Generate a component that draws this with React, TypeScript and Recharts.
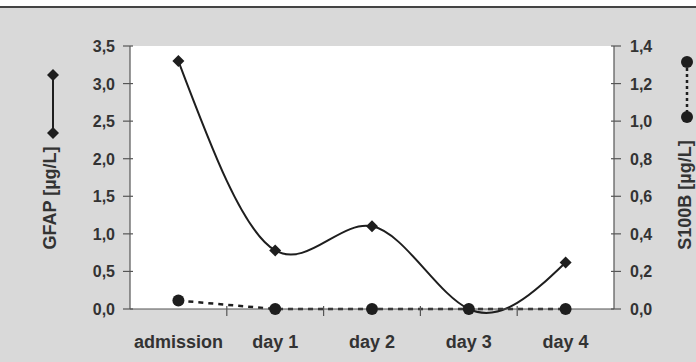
import { ComposedChart, Line, XAxis, YAxis, CartesianGrid } from "recharts"

const days = ["admission", "day 1", "day 2", "day 3", "day 4"]
const gfap = [3.3, 0.78, 1.1, 0.0, 0.62]
const s100b = [0.045, 0.0, 0.0, 0.0, 0.0]
const gfapTicks = [0, 0.5, 1, 1.5, 2, 2.5, 3, 3.5]
const s100bTicks = [0, 0.2, 0.4, 0.6, 0.8, 1.0, 1.2, 1.4]

const data = days.map((day, i) => ({ day, gfap: gfap[i], s100b: s100b[i] }))

const INK = "#1e1e1e"
const TEXT = "#333"
const FONT = "Arial, 'Liberation Sans', sans-serif"

const comma = (v: number) => v.toFixed(1).replace(".", ",")

function Diamond({ cx, cy }: { cx?: number; cy?: number }) {
  if (cx == null || cy == null) return null
  return <path d={`M${cx},${cy - 6} L${cx + 6},${cy} L${cx},${cy + 6} L${cx - 6},${cy} Z`} fill={INK} />
}

function Dot({ cx, cy }: { cx?: number; cy?: number }) {
  if (cx == null || cy == null) return null
  return <circle cx={cx} cy={cy} r={6} fill={INK} />
}

function LeftTick({ x, y, payload }: any) {
  return (
    <g>
      <line x1={x - 5} x2={x + 5} y1={y} y2={y} stroke="#555" strokeWidth={1.2} />
      <text x={x - 13} y={y + 6} textAnchor="end" fill={TEXT} fontSize={16} fontWeight={700} fontFamily={FONT}>
        {comma(payload.value)}
      </text>
    </g>
  )
}

function RightTick({ x, y, payload }: any) {
  return (
    <g>
      <line x1={x - 5} x2={x + 5} y1={y} y2={y} stroke="#555" strokeWidth={1.2} />
      <text x={x + 14} y={y + 6} textAnchor="start" fill={TEXT} fontSize={16} fontWeight={700} fontFamily={FONT}>
        {comma(payload.value)}
      </text>
    </g>
  )
}

function BottomTick({ x, y, payload }: any) {
  const half = payload.offset || 48.4
  return (
    <g>
      {payload.index > 0 && (
        <line x1={x - half} x2={x - half} y1={y - 5} y2={y + 5} stroke="#555" strokeWidth={1.2} />
      )}
      <text x={x} y={y + 37} textAnchor="middle" fill={TEXT} fontSize={18} fontWeight={700} fontFamily={FONT}>
        {payload.value}
      </text>
    </g>
  )
}

export default function App() {
  return (
    <div style={{ position: "absolute", left: 0, top: 0, width: 696, height: 362, background: "#fff" }}>
      <div style={{ position: "absolute", left: 0, top: 6, width: 696, height: 356, background: "#d9d9d9", borderTop: "2px solid #444", boxSizing: "border-box" }} />
      <div style={{ position: "absolute", left: 0, top: 0 }}>
        <ComposedChart width={696} height={362} data={data} margin={{ top: 46, right: 0, bottom: 0, left: 0 }}>
          <CartesianGrid horizontal={false} vertical={false} fill="#ffffff" />
          <XAxis
            dataKey="day"
            scale="band"
            height={53}
            axisLine={{ stroke: "#555", strokeWidth: 1.2 }}
            tickLine={false}
            tick={<BottomTick />}
            tickSize={0}
            interval={0}
          />
          <YAxis
            yAxisId="gfap"
            orientation="left"
            width={130}
            domain={[0, 3.5]}
            ticks={gfapTicks}
            axisLine={{ stroke: "#555", strokeWidth: 1.2 }}
            tickLine={false}
            tickSize={0}
            tick={<LeftTick />}
            interval={0}
          />
          <YAxis
            yAxisId="s100b"
            orientation="right"
            width={82}
            domain={[0, 1.4]}
            ticks={s100bTicks}
            axisLine={{ stroke: "#555", strokeWidth: 1.2 }}
            tickLine={false}
            tickSize={0}
            tick={<RightTick />}
            interval={0}
          />
          <Line
            yAxisId="s100b"
            type="linear"
            dataKey="s100b"
            stroke={INK}
            strokeWidth={2.5}
            strokeDasharray="5 5"
            dot={<Dot />}
            activeDot={false}
            isAnimationActive={false}
          />
          <Line
            yAxisId="gfap"
            type="natural"
            dataKey="gfap"
            stroke={INK}
            strokeWidth={2}
            dot={<Diamond />}
            activeDot={false}
            isAnimationActive={false}
          />
        </ComposedChart>
      </div>
      <svg width={696} height={362} style={{ position: "absolute", left: 0, top: 0, pointerEvents: "none" }}>
        <line x1={53} x2={53} y1={75} y2={133} stroke={INK} strokeWidth={2} />
        <path d="M53,69 L59,75 L53,81 L47,75 Z" fill={INK} />
        <path d="M53,127 L59,133 L53,139 L47,133 Z" fill={INK} />
        <text
          transform="translate(56,198) rotate(-90)"
          textAnchor="middle"
          fill={TEXT}
          fontSize={18}
          fontWeight={700}
          fontFamily={FONT}
        >
          GFAP [µg/L]
        </text>
        <line x1={687} x2={687} y1={62} y2={118} stroke={INK} strokeWidth={2.5} strokeDasharray="3 3" />
        <circle cx={687} cy={62} r={6} fill={INK} />
        <circle cx={687} cy={117} r={6} fill={INK} />
        <text
          transform="translate(691,195) rotate(-90)"
          textAnchor="middle"
          fill={TEXT}
          fontSize={18}
          fontWeight={700}
          fontFamily={FONT}
        >
          S100B [µg/L]
        </text>
      </svg>
    </div>
  )
}
